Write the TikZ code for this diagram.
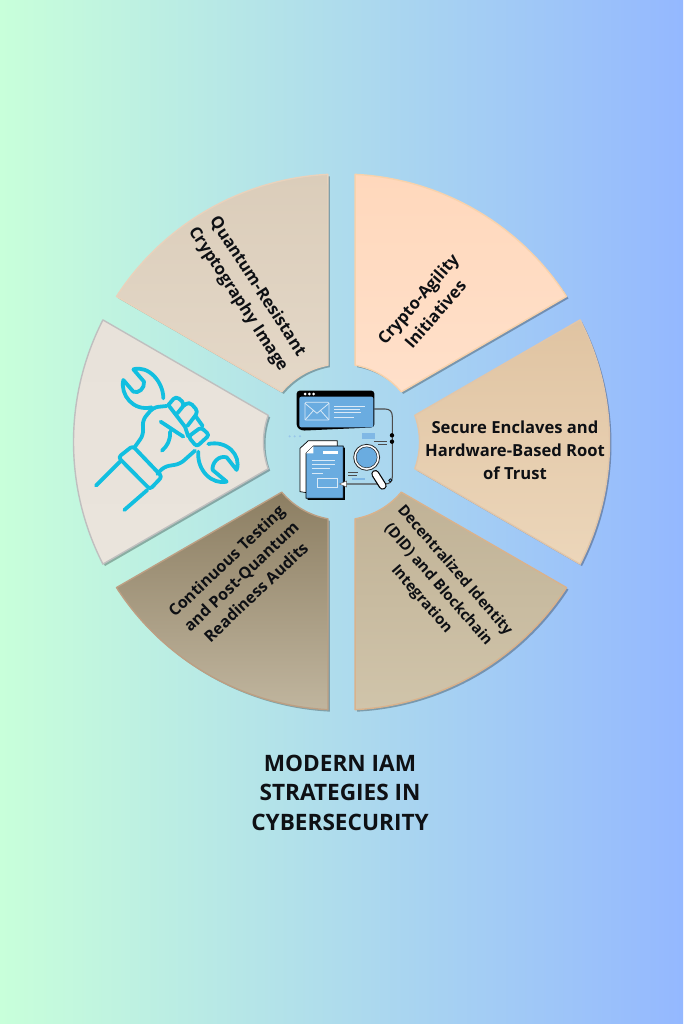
\documentclass[tikz,border=0pt]{standalone}
\usepackage{fontspec}
\setmainfont{Open Sans}
\usetikzlibrary{shadows}

\definecolor{iconblue}{HTML}{6AACE0}
\definecolor{wrenchcyan}{HTML}{12BFE0}
\definecolor{inkdark}{HTML}{0E1014}

\tikzset{
    sector/.style={line width=1.4pt, line join=round, drop shadow={shadow xshift=2pt, shadow yshift=-2pt, fill=black, opacity=0.28}},
    sectorlabel/.style={font=\bfseries\fontsize{16.6}{23}\selectfont, text=inkdark, align=center, inner sep=0pt},
    titlelabel/.style={font=\bfseries\fontsize{22.6}{29.5}\selectfont, text=inkdark, align=center, inner sep=0pt},
    wrenchline/.style={draw=wrenchcyan, line width=3.8pt, line cap=round, line join=round},
    iconline/.style={draw=black!70, line width=0.8pt},
    paleline/.style={draw=white!75!iconblue, line width=0.8pt}
}

\newcommand{\drawsector}[2]{
    \path[sector, #2] (#1-27.1:268) arc[start angle=#1-27.1, delta angle=54.2, radius=268] -- (#1+20:78) arc[start angle=#1+20, delta angle=-40, radius=78] -- cycle;
}

\begin{document}
\begin{tikzpicture}[x=1pt, y=-1pt]
    \useasboundingbox (0,0) rectangle (683,1024);
    \shade[left color={rgb,255:red,200;green,255;blue,218}, right color={rgb,255:red,148;green,184;blue,255}] (0,0) rectangle (683,1024);

    % six sectors
    \begin{scope}[shift={(341.5,442)}]
        \drawsector{-60}{draw=brown!30!orange!35!white, top color={rgb,255:red,255;green,216;blue,188}, bottom color={rgb,255:red,255;green,224;blue,202}}
        \drawsector{-120}{draw=brown!35!white, top color={rgb,255:red,219;green,205;blue,186}, bottom color={rgb,255:red,228;green,216;blue,200}}
        \drawsector{180}{draw=black!25!white, top color={rgb,255:red,232;green,226;blue,218}, bottom color={rgb,255:red,234;green,228;blue,220}}
        \drawsector{0}{draw=brown!45!white, top color={rgb,255:red,224;green,196;blue,162}, bottom color={rgb,255:red,236;green,214;blue,186}}
        \drawsector{60}{draw=brown!60!white, top color={rgb,255:red,192;green,178;blue,150}, bottom color={rgb,255:red,208;green,196;blue,170}}
        \drawsector{120}{draw=black!25!brown!60!white, top color={rgb,255:red,140;green,126;blue,98}, bottom color={rgb,255:red,192;green,181;blue,158}}
    \end{scope}

    % labels
    \node[sectorlabel, rotate=-57] (quantum) at (247.5,293) {Quantum-Resistant\\Cryptography Image};
    \node[sectorlabel, rotate=49] (agility) at (426.5,306.5) {Crypto-Agility\\Initiatives};
    \node[sectorlabel] (enclaves) at (515,450) {Secure Enclaves and\\Hardware-Based Root\\of Trust};
    \node[sectorlabel, font=\bfseries\fontsize{15}{22}\selectfont, rotate=-49] (identity) at (438,585) {Decentralized Identity\\(DID) and Blockchain\\Integration};
    \node[sectorlabel, font=\bfseries\fontsize{16}{21.5}\selectfont, rotate=43.5] (testing) at (241,576.5) {Continuous Testing\\and Post-Quantum\\Readiness Audits};
    \node[titlelabel] (title) at (340,792.5) {MODERN IAM\\STRATEGIES IN\\CYBERSECURITY};

    % wrench in fist
    \begin{scope}[shift={(70,320)}, x=0.3333pt, y=-0.3333pt]
        \draw[wrenchline] (190,148) .. controls (235,135) and (280,185) .. (280,235) (190,148) -- (222,185) .. controls (225,205) and (205,222) .. (190,215) -- (160,180) .. controls (150,225) and (190,275) .. (245,262);
        \draw[wrenchline] (500,450) .. controls (515,405) and (470,360) .. (415,372) (500,450) -- (470,412) .. controls (445,405) and (425,430) .. (428,450) -- (470,485) .. controls (425,495) and (380,450) .. (385,395);
        \draw[wrenchline, rounded corners=4pt] (295,255) -- (318,228) -- (345,252) -- (322,280);
        \draw[wrenchline, rounded corners=4pt] (340,258) -- (358,245) -- (385,275) -- (352,318);
        \draw[wrenchline] (378,290) -- (398,318);
        \draw[wrenchline, rounded corners=3pt] (393,322) -- (418,345) -- (380,380) -- (355,350) -- cycle;
        \draw[wrenchline] (295,255) -- (345,320) -- (355,350);
        \draw[wrenchline, rounded corners=5pt] (290,258) -- (250,262) -- (218,300) -- (220,345) -- (195,380);
        \draw[wrenchline] (272,305) -- (340,350) (300,335) .. controls (302,360) and (292,378) .. (276,392);
        \draw[wrenchline, rounded corners=5pt] (375,392) -- (330,432) -- (282,440) -- (262,462);
        \draw[wrenchline, rounded corners=3pt] (145,412) -- (188,378) -- (276,470) -- (240,508) -- cycle;
        \draw[wrenchline] (150,425) -- (78,497) (232,510) -- (163,570);
    \end{scope}

    % centre icon
    \begin{scope}[shift={(260,370)}, x=0.3333pt, y=-0.3333pt]
        \draw[iconline, line width=1.1pt] (343,117) -- (375,117) .. controls (390,117) and (397,125) .. (397,140) -- (397,320) .. controls (397,335) and (390,342) .. (375,342) -- (250,342);
        \fill[black, rounded corners=3pt] (110,62) -- (343,62) -- (343,172) -- (125,182) -- (110,172) -- cycle;
        \fill[iconblue, rounded corners=2pt] (118,80) rectangle (340,172);
        \foreach \dotx in {135,148,161} {
            \fill[white] (\dotx,72) circle (1.5pt);
        }
        \draw[paleline, rounded corners=1pt] (135,97) rectangle (207,150);
        \draw[paleline] (135,100) -- (171,130) -- (207,100) (135,150) -- (160,122) (207,150) -- (182,122);
        \draw[paleline] (222,108) -- (315,108) (222,118) -- (300,118) (222,128) -- (302,128) (222,143) -- (282,143);
        \fill[black] (396,196) circle (2.2pt) (396,215) circle (2.2pt);
        \fill[iconblue!85!white] (306,189) rectangle (346,207);
        \draw[iconline] (342,213) -- (382,213) (355,222) -- (382,222) (265,307) -- (295,307) (265,316) -- (290,316);
        \draw[iconblue!85!white, line width=1.2pt] (275,327) -- (315,327);
        \foreach \dotx in {89,104,120} {
            \fill[iconblue!70!white] (\dotx,199) circle (1.1pt);
        }
        \draw[black, fill=iconblue, line width=0.6pt] (391,331) circle (1.6pt);
        % pages
        \draw[black, fill=white, line width=0.7pt, line join=round] (120,235) -- (145,212) -- (232,212) -- (232,300) -- (140,368) -- (120,365) -- cycle;
        \fill[black] (143,252) -- (163,233) -- (255,233) -- (255,390) -- (143,390) -- cycle;
        \draw[black, fill=iconblue, line width=0.7pt, line join=round] (138,250) -- (160,228) -- (250,228) -- (250,385) -- (138,385) -- cycle;
        \fill[white] (138,250) -- (160,250) -- (160,228) -- cycle;
        \fill[white] (190,243) rectangle (235,252);
        \draw[paleline] (155,270) -- (225,270) (155,283) -- (225,283) (155,296) -- (210,296) (155,310) -- (190,310);
        \draw[paleline, line width=1pt] (173,325) rectangle (232,353);
        \fill[white, draw=black!70, line width=0.4pt] (238,342) -- (260,333) -- (260,351) -- cycle;
        % magnifier
        \draw[black, line width=8pt, line cap=round] (346,312) -- (368,347);
        \draw[white, line width=5.6pt, line cap=round] (346,312) -- (368,347);
        \draw[black!85, fill=white, line width=0.8pt] (320,262) circle (13pt);
        \draw[black!85, fill=iconblue, line width=0.5pt] (320,262) circle (10.5pt);
    \end{scope}
\end{tikzpicture}
\end{document}
